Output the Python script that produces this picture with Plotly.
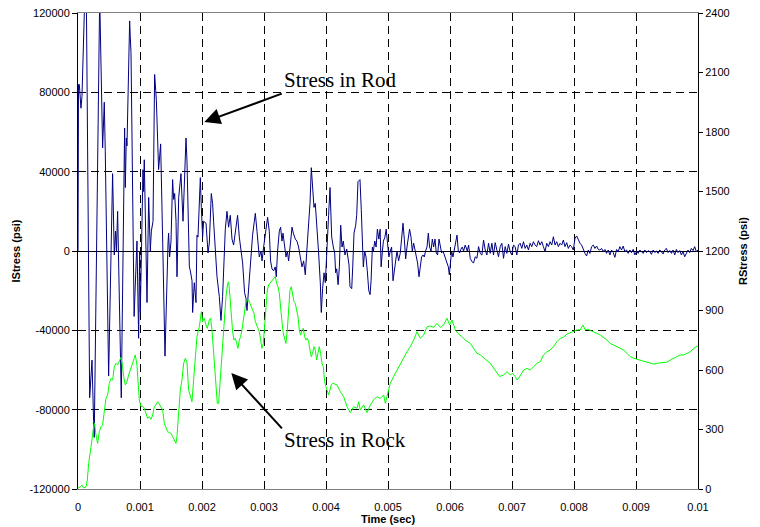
import numpy as np
import plotly.graph_objects as go

# ---- Stress in Rod (IStress, kpsi) : time in microseconds ----
rod_t_us = [0, 8, 21, 48, 64, 129, 188, 226, 252, 262, 350, 397, 424, 440, 494, 558, 585, 605, 620, 639,
            698, 752, 763, 779, 790, 833, 843, 855, 905, 951, 978, 994, 1005, 1048, 1058, 1069, 1113, 1140,
            1166, 1183, 1210, 1236, 1253, 1264, 1300, 1333, 1371, 1403, 1452, 1461, 1478, 1500, 1526, 1543,
            1559, 1581, 1597, 1624, 1661, 1694, 1742, 1758, 1796, 1812, 1839, 1849, 1866, 1876, 1903, 1919,
            1935, 1973,
            1989, 2010, 2026, 2065, 2097, 2118, 2150, 2171, 2187, 2215, 2242, 2279, 2306, 2332, 2376, 2403,
            2429, 2456, 2484, 2510, 2537, 2574, 2602, 2629, 2655, 2687, 2710, 2726, 2752, 2768, 2795, 2816,
            2844, 2860, 2887, 2903, 2924, 2952, 2968, 2994, 3021, 3037, 3058, 3085, 3106, 3129, 3155, 3182,
            3198, 3219, 3247, 3268, 3290, 3306, 3332, 3355, 3376, 3397, 3424, 3452, 3473, 3505, 3532, 3558,
            3585, 3613, 3639, 3666, 3703, 3719, 3742, 3763, 3784, 3806, 3827, 3844, 3860, 3881, 3908, 3924,
            3945, 3968, 3989, 4016, 4042, 4065,
            4092, 4118, 4140, 4156, 4173, 4195, 4216, 4237, 4258, 4279, 4306, 4334, 4355, 4371, 4387, 4415,
            4431, 4452, 4479, 4495, 4516, 4548, 4569, 4585, 4602, 4624, 4645, 4666, 4690, 4711, 4727, 4748,
            4764, 4787, 4808, 4829, 4852, 4873, 4889, 4910, 4926, 4950, 4971, 4992, 5015, 5037, 5058, 5081,
            5102, 5123, 5145, 5171, 5198, 5219, 5242, 5263, 5285, 5306, 5327, 5348, 5371, 5392, 5413, 5435,
            5456, 5477, 5500, 5521, 5542, 5565, 5585, 5606, 5629, 5650, 5671, 5694, 5715, 5736, 5758, 5779,
            5800, 5823, 5844, 5865, 5887, 5908, 5929, 5952, 5973, 5989, 6005, 6026, 6048, 6069, 6090, 6113,
            6134, 6155, 6177, 6198, 6219, 6245, 6279]
rod_kpsi = [0, 84, 84, 72, 78, 150, -74, -55, -86, -94, 128, 52, 75, 50, -63, 39, -2, 10, 0, 20,
            -74, 62, 32, 57, 53, 116, 108, 100, -33, 5, -44, 0, -31, 41, 30, 46, -26, 27,
            0, 10, 15, 89, 81, 76, 41, 54, -3, -53, 4, 9, -3, 5, 36, 26,
            29, 15, -13, 27, 39, 15, 57, 45, -8, -10, -15, -31, -21, -16, -26, 8,
            7, 37,
            22, 7, 15, 14, -1, 4, 29, 24, 15, 0, -13, -23, -35, -23, 11, 20,
            12, 18, 6, 3, 9, 18, 7, 0, -6, -21, -24, -30, -18, -15, 0, 8,
            15, 19, 10, 5, -3, 0, -5, 2, 9, 12, 17, 10, -5, -9, -10, -8,
            -13, 0, 10, 12, 5, 9, 2, -3, 0, -5, 3, 12, 9, 6, 5, 2,
            -3, -8, -5, -12, 6, 14, 24, 42, 31, 22, 24, 17, 6, -1, -16, -31,
            -19, -11, -16, 5, 18, 32,
            7, 2, -1, -11, -9, -17, -8, 13, 2, 5, -2, 1, -3, -7, -18, -19,
            -8, 9, 13, 18, 35, 36, 21, 6, -8, 0, -3, -10, -20, -22, -15, 2,
            0, 5, 2, 11, 6, 11, -8, 0, 5, 7, 11, 4, -3, 0, 2, -15,
            -10, -5, 0, -5, -1, 6, 14, 6, -4, 2, 6, 11, 7, 0, 4, 0,
            -3, -6, -13, -8, -3, -2, -3, 0, 2, 9, 2, 0, 6, 2, 6, -1,
            -2, 6, 3, -1, 0, -2, -4, -6, -8, -12, -5, 0, -3, 0, 4, 8,
            0, -1, 1, 2, 0, 3, 0]
# late part of the rod signal, evenly sampled from 6300 us to 10000 us
rod_tail_kpsi = [3.0, -3.7, -5.4, -6.0, -2.9, -3.7, 2.2, -1.2, -2.0, 5.5, 0.5, -2.0, 3.9, -1.2, 3.9, -2.0,
                 4.2, 0.5, -2.9, 2.2, 3.9, -3.7, 2.2, -1.2, 3.4, -0.3, -2.0, 3.0, 2.2, -2.0, 3.0, 3.9,
                 1.3, 4.7, 1.3, 3.0, 0.5, 3.9, 2.2, 4.7, 3.0, 2.2, 5.2, 3.0, 4.7, 2.2, -0.3, 3.9,
                 2.2, 4.7, 3.0, 7.2, 3.0, 4.7, 2.2, 3.9, 3.0, 5.5, 2.2, 4.2, 1.3, 3.0, 2.2, 0.5,
                 6.4, 7.6, 5.2, 3.9, 3.0, 0.5, -1.2, -2.5, 0.5, -1.2, 2.2, 3.0, 1.3, 2.5, 0.8, 0.5,
                 1.3, -0.3, 0.8, -1.2, 0.5, -2.0, 0.5, -0.8, -3.2, 0.8, -0.3, 2.2, 0.5, 2.5, -0.3, 0.5,
                 -1.2, 0.5, -0.8, 0.8, -2.0, -0.3, -1.2, 0.5, -0.3, -1.2, 0.5, -0.8, 0.2, -0.3, -1.7, 0.5,
                 -0.8, 0.0, -1.2, 0.5, -0.3, -1.5, 0.5, 1.3, -0.8, 0.2, -1.2, 0.5, -2.0, 0.8, -0.8, 0.2,
                 -2.0, -0.3, -2.9, -1.2, 0.5, -0.8, 1.3, 0.2, 2.2, -0.3, 0.5]

# ---- Stress in Rock (RStress, psi) : time in microseconds ----
rock_t_us = [0, 37, 64, 91, 129, 150, 172, 198, 225, 252, 268, 290, 317, 344, 370, 397, 424, 451, 478, 505,
             532, 559, 586, 612, 639, 666, 693, 720, 736, 763, 790, 817, 844, 870, 897, 924, 951, 967, 989,
             1016, 1042, 1069, 1096, 1123, 1150, 1177, 1204, 1231, 1257, 1284, 1311, 1338, 1365, 1392, 1419,
             1446, 1473, 1499, 1526, 1553, 1580, 1596, 1623, 1650, 1677, 1704, 1731, 1757, 1784, 1811, 1838,
             1865, 1892, 1919, 1957, 1989, 2010, 2037, 2064, 2086, 2118, 2139, 2161, 2182, 2204, 2225, 2247,
             2268, 2290, 2311, 2333, 2354, 2387, 2413, 2430, 2451, 2473, 2494, 2516, 2537, 2559, 2580, 2602,
             2623, 2645, 2666, 2688, 2709, 2731, 2752, 2774, 2795, 2817, 2838, 2860, 2881, 2903, 2924, 2946,
             2967, 2989, 3010, 3032, 3053, 3075, 3096, 3118, 3139, 3161, 3182, 3204, 3225, 3247, 3268, 3290,
             3311, 3333, 3354, 3376, 3397, 3419, 3440, 3462, 3483, 3505, 3526, 3548, 3569, 3591, 3612, 3634,
             3655, 3677, 3698, 3720, 3741, 3763, 3784, 3806, 3827, 3849, 3870, 3892, 3913, 3935, 3956, 3978,
             3999, 4021, 4042, 4064, 4085, 4107, 4177, 4231, 4285, 4338, 4392, 4446, 4500, 4527, 4553, 4607,
             4661, 4715, 4768, 4822, 4876, 4930, 4957, 4983, 5037, 5091, 5145, 5199, 5252, 5306, 5360, 5414,
             5467, 5521, 5575, 5629, 5682, 5736, 5790, 5844, 5897, 5951, 5994, 6032, 6086, 6139, 6193, 6247,
             6327, 6381, 6435, 6489, 6543, 6596, 6650, 6704, 6758, 6801, 6865, 6919, 6972, 7010, 7053, 7080,
             7107, 7144, 7187, 7241, 7295, 7349, 7402, 7456, 7510, 7564, 7617, 7671, 7725, 7779, 7832, 7886,
             7940, 7994, 8047, 8101, 8144, 8182, 8219, 8263, 8316, 8370, 8424, 8478, 8531, 8585, 8639, 8693,
             8746, 8800, 8854, 8908, 8961, 9015, 9069, 9123, 9176, 9230, 9284, 9338, 9392, 9445, 9499, 9553,
             9607, 9660, 9714, 9768, 9822, 9875, 9929, 9983, 10000]
rock_psi = [5, 11, 20, 5, 11, 45, 129, 180, 247, 314, 331, 272, 230, 289, 314, 323, 382, 457, 474, 533,
            558, 550, 617, 634, 625, 642, 664, 617, 567, 525, 541, 575, 608, 625, 650, 676, 625, 533, 449,
            415, 418, 407, 382, 356, 365, 351, 373, 415, 424, 440, 429, 415, 398, 331, 306,
            289, 284, 281, 264, 247, 230, 264, 415, 499, 550, 634, 659, 642, 499, 474, 440,
            550, 640, 768, 818, 894, 844, 861, 827, 810, 852, 861, 802, 718, 634, 533, 432,
            432, 533, 650, 751, 869, 970, 1037, 1045, 970, 869, 793, 751, 760, 734, 709, 751,
            768, 802, 844, 902, 945, 953, 953, 936, 919, 911, 886, 844, 827, 818, 793, 751,
            709, 734, 835, 953, 1003, 1029, 1037, 1045, 1054, 1062, 1071, 1037, 1020, 987, 902, 844,
            785, 751, 734, 802, 902, 1003, 1020, 987, 945, 936, 902, 869, 802, 776, 802, 810,
            768, 751, 760, 743, 701, 667, 684, 718, 701, 650, 684, 718, 684, 634, 617, 541,
            516, 491, 474, 499, 525, 533, 525, 491, 466, 415, 385, 415, 407, 440, 398, 424,
            385, 424, 449, 466, 457, 474, 432, 466, 533, 567, 600, 625, 659, 692, 718, 751,
            793, 760, 776, 818, 822, 815, 835, 815, 827, 861, 827, 852, 802, 781, 768, 751,
            734, 709, 684, 676, 659, 647, 634, 608, 583, 567, 575, 592, 575, 583, 566, 550,
            558, 575, 600, 608, 600, 617, 634, 642, 676, 692, 701, 718, 743, 760, 765, 781,
            788, 793, 802, 802, 827, 802, 806, 799, 793, 785, 776, 765, 751, 734, 726, 718,
            709, 701, 684, 667, 659, 654, 650, 646, 642, 636, 630, 634, 636, 636, 640, 650,
            659, 667, 676, 676, 684, 692, 709, 718, 722]

# ---- axis ticks ----
x_ticks = [0, 0.001, 0.002, 0.003, 0.004, 0.005, 0.006, 0.007, 0.008, 0.009, 0.01]
x_labels = ["0", "0.001", "0.002", "0.003", "0.004", "0.005", "0.006", "0.007", "0.008", "0.009", "0.01"]
y_ticks = [-120000, -80000, -40000, 0, 40000, 80000, 120000]
y_labels = ["-120000", "-80000", "-40000", "0", "40000", "80000", "120000"]
y2_ticks = [0, 300, 600, 900, 1200, 1500, 1800, 2100, 2400]
y2_labels = [str(v) for v in y2_ticks]

rod_t = np.concatenate([np.array(rod_t_us, float), np.linspace(6300, 10000, len(rod_tail_kpsi))]) * 1e-6
rod_v = np.concatenate([np.array(rod_kpsi, float), np.array(rod_tail_kpsi, float)]) * 1000
rock_t = np.array(rock_t_us, float) * 1e-6
rock_v = np.array(rock_psi, float)

fig = go.Figure()
fig.add_trace(go.Scatter(x=rock_t, y=rock_v, mode="lines", yaxis="y2",
                         line=dict(color="#00FF00", width=1), name="RStress"))
fig.add_trace(go.Scatter(x=rod_t, y=rod_v, mode="lines",
                         line=dict(color="#000080", width=1), name="IStress"))

tickfont = dict(family="Liberation Sans, Arial, sans-serif", size=11, color="black")
titlefont = dict(family="Liberation Sans, Arial, sans-serif", size=11, color="black")
dash = "8px,5px"

fig.update_layout(
    width=760, height=527,
    margin=dict(l=78, r=62, t=13, b=38),
    plot_bgcolor="white", paper_bgcolor="white",
    showlegend=False,
    xaxis=dict(range=[0, 0.01], tickvals=x_ticks, ticktext=x_labels, tickfont=tickfont,
               showgrid=True, gridcolor="black", gridwidth=1, griddash=dash,
               showline=True, linecolor="#808080", linewidth=1, mirror=True,
               ticks="outside", ticklen=8, tickcolor="rgba(0,0,0,0)", zeroline=False,
               automargin=False,
               title=dict(text="<b>Time (sec)</b>", font=titlefont, standoff=1)),
    yaxis=dict(range=[-120000, 120000], tickvals=y_ticks, ticktext=y_labels, tickfont=tickfont,
               showgrid=True, gridcolor="black", gridwidth=1, griddash=dash,
               zeroline=True, zerolinecolor="black", zerolinewidth=1,
               showline=True, linecolor="black", linewidth=1,
               ticks="outside", ticklen=5, tickcolor="black", automargin=False,
               title=dict(text="<b>IStress (psi)</b>", font=titlefont, standoff=6)),
    yaxis2=dict(range=[0, 2400], tickvals=y2_ticks, ticktext=y2_labels, tickfont=tickfont,
                overlaying="y", side="right", showgrid=False, zeroline=False,
                showline=True, linecolor="black", linewidth=1,
                ticks="outside", ticklen=4, tickcolor="black", automargin=False,
                title=dict(text="<b>RStress (psi)</b>", font=titlefont, standoff=10)),
)

serif = dict(family="Liberation Serif, Times New Roman, serif", size=21, color="black")
fig.add_annotation(x=0.004231, y=86200, xref="x", yref="y", text="Stress in Rod",
                   showarrow=False, font=serif)
fig.add_annotation(x=0.002037, y=65000, ax=0.003311, ay=79600, xref="x", yref="y",
                   axref="x", ayref="y", text="", showarrow=True, arrowhead=2,
                   arrowsize=1.6, arrowwidth=2, arrowcolor="black")
fig.add_annotation(x=0.004303, y=-95300, xref="x", yref="y", text="Stress in Rock",
                   showarrow=False, font=serif)
fig.add_annotation(x=0.002473, y=-61500, ax=0.003311, ay=-90200, xref="x", yref="y",
                   axref="x", ayref="y", text="", showarrow=True, arrowhead=2,
                   arrowsize=1.6, arrowwidth=2, arrowcolor="black")

fig.write_html("out.html")
